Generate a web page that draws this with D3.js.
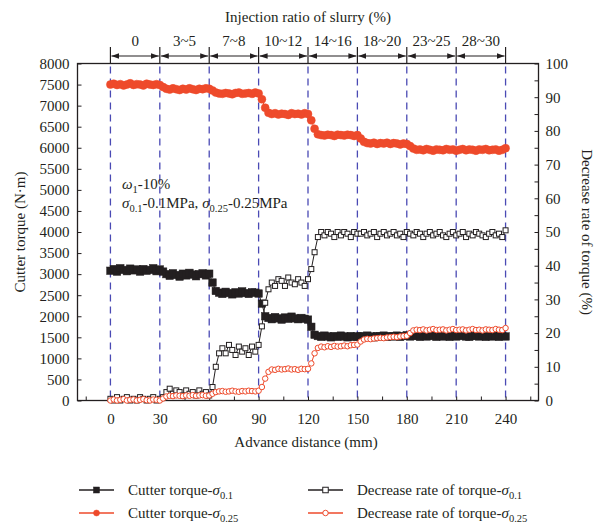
<!DOCTYPE html>
<html><head><meta charset="utf-8">
<script src="https://cdn.jsdelivr.net/npm/d3@7"></script>
<style>body{margin:0;background:#fff}svg{display:block}svg text{font-family:"Liberation Serif","DejaVu Serif",serif}</style>
</head><body><svg id="c" width="597" height="527"></svg>
<script>
// ---------- DATA ----------
const advance = [0,2,4,6,8,10,12,14,16,18,20,22,24,26,28,30,32,34,36,38,40,42,44,46,48,50,52,54,56,58,60,62,64,66,68,70,72,74,76,78,80,82,84,86,88,90,92,94,96,98,100,102,104,106,108,110,112,114,116,118,120,122,124,126,128,130,132,134,136,138,140,142,144,146,148,150,152,154,156,158,160,162,164,166,168,170,172,174,176,178,180,182,184,186,188,190,192,194,196,198,200,202,204,206,208,210,212,214,216,218,220,222,224,226,228,230,232,234,236,238,240];

const torque01 = [3080,3120,3060,3140,3100,3070,3130,3090,3110,3060,3120,3080,3100,3140,3070,3110,
  3060,3000,2960,3020,2980,2940,3010,2970,3030,2990,2950,3000,3020,2970,3010,
  2800,2600,2560,2530,2580,2550,2520,2570,2540,2590,2550,2530,2570,2560,2540,
  2300,2000,1960,1930,1980,1950,1920,1970,1940,1990,1950,1930,1960,1940,1920,
  1750,1560,1530,1510,1540,1520,1500,1530,1510,1540,1520,1500,1530,1510,1520,
  1530,1510,1540,1520,1500,1530,1520,1540,1510,1530,1520,1540,1510,1530,1550,1520,1540,1530,1510,1540,
  1520,1530,1550,1510,1540,1520,1530,1510,1540,1520,1530,1550,1520,1510,1540,1530,1520,1540,1510,1530,
  1520,1540,1510,1530,1520];

const torque025 = [7500,7520,7490,7510,7480,7500,7530,7490,7510,7500,7480,7520,7500,7490,7510,7490,
  7440,7400,7380,7410,7390,7370,7400,7380,7410,7390,7370,7400,7390,7410,7400,
  7360,7310,7290,7280,7300,7290,7270,7300,7310,7280,7290,7300,7280,7310,7290,
  7150,6950,6830,6800,6820,6790,6810,6800,6780,6820,6800,6810,6790,6820,6800,
  6650,6450,6320,6300,6290,6310,6300,6280,6310,6300,6290,6310,6300,6280,6300,
  6220,6140,6110,6100,6120,6090,6110,6100,6120,6090,6110,6100,6080,6100,6090,
  6040,5980,5950,5960,5940,5970,5950,5930,5960,5950,5940,5970,5950,5960,5930,
  5950,5970,5940,5960,5950,5930,5960,5950,5970,5940,5950,5960,5930,5950,5990];

const rate01 = [0.5,0,1,0,0.5,1,0,0.5,0,1,0.5,0,0.5,1,0,0.5,
  1,2.5,3.5,2,3,2.5,1.5,3,2,2.5,1.5,3,2,2.5,1.5,
  4,10,14,15.5,14,16.5,15,13.5,16,14.5,15.5,13.5,16,14.5,16.5,
  22,29,33,35,34,36,35.5,34,36.5,35,34.5,36,35,34,36,
  39,44,48.5,50,49,50,49.5,48.5,50,49,50,49.5,48.5,50,49.5,
  49.5,50,49,49.5,50,48.5,49.5,50,49,49.5,50,49,49.5,48.5,50,49.5,49,50,49.5,48.5,
  49.5,50,49,49.5,50,49,48.5,49.5,50,49,49.5,50,48.5,49.5,49,50,49.5,49,48.5,49.5,
  50,49,49.5,48.5,50.5];

const rate025 = [0,0.3,0,0.2,0.4,0,0.2,0.3,0,0.2,0.4,0.1,0,0.3,0.2,0,
  0.6,1.2,1.4,1.3,1.5,1.4,1.3,1.5,1.4,1.6,1.4,1.5,1.6,1.4,1.5,
  2.0,2.5,2.7,2.8,2.6,2.7,2.9,2.7,2.6,2.8,2.7,2.9,2.8,2.7,2.9,
  4,6.5,8.5,9.2,9.1,9.4,9.2,9.3,9.5,9.2,9.3,9.1,9.4,9.3,9.4,
  11,14,15.6,16,15.8,16.1,15.9,16.2,16,16.1,16.3,16.1,16.4,16.5,16.6,
  17.5,18.1,18.3,18.2,18.4,18.5,18.6,18.5,18.7,18.8,18.9,18.8,19.0,19.1,19.2,
  20.0,20.8,21.0,20.9,21.1,20.8,21.0,21.2,20.9,21.0,21.1,20.8,21.0,21.2,20.9,
  21.0,21.1,20.8,21.0,21.2,20.9,21.0,20.8,21.1,21.0,20.9,21.2,21.0,20.9,21.5];

const xTicks = [0,30,60,90,120,150,180,210,240];
const xMinorTicks = [-15,15,45,75,105,135,165,195,225,255];
const leftTicks = [0,500,1000,1500,2000,2500,3000,3500,4000,4500,5000,5500,6000,6500,7000,7500,8000];
const rightTicks = [0,10,20,30,40,50,60,70,80,90,100];
const rightMinorTicks = [5,15,25,35,45,55,65,75,85,95];
const ratioBounds = [0,30,60,90,120,150,180,210,240];
const ratioLabels = ["0","3~5","7~8","10~12","14~16","18~20","23~25","28~30"];

// ---------- STYLE ----------
const BLACK = "#231f20", RED = "#ee4a2b", DASH = "#4a4ab4";
const L = 77.5, R = 538.5, T = 63.5, B = 400.5;

const svg = d3.select("#c");
svg.append("rect").attr("width",597).attr("height",527).attr("fill","#fff");

const x = d3.scaleLinear().domain([-20,260]).range([L,R]);
const yL = d3.scaleLinear().domain([0,8000]).range([B,T]);
const yR = d3.scaleLinear().domain([0,100]).range([B,T]);

// dashed vertical lines
svg.append("g").selectAll("line").data(ratioBounds).join("line")
  .attr("x1",d=>x(d)).attr("x2",d=>x(d)).attr("y1",T+3).attr("y2",B)
  .attr("stroke",DASH).attr("stroke-width",1.3).attr("stroke-dasharray","7,5");

// axes
function styleAxis(g){
  g.select(".domain").remove();
  g.attr("font-family",null).attr("font-size",null);
  g.selectAll("line").attr("stroke",BLACK).attr("stroke-width",1);
  g.selectAll("text").style("font-size","15px").attr("fill",BLACK);
}
svg.append("g").attr("transform",`translate(0,${B})`)
  .call(d3.axisBottom(x).tickValues(xTicks).tickSize(-4).tickPadding(13).tickFormat(d3.format("d")))
  .call(styleAxis);
svg.append("g").attr("transform",`translate(0,${B})`)
  .call(d3.axisBottom(x).tickValues(xMinorTicks).tickSize(-4).tickFormat(""))
  .call(styleAxis);
svg.append("g").attr("transform",`translate(${L},0)`)
  .call(d3.axisLeft(yL).tickValues(leftTicks).tickSize(-4).tickPadding(8).tickFormat(d3.format("d")))
  .call(styleAxis);
svg.append("g").attr("transform",`translate(${R},0)`)
  .call(d3.axisRight(yR).tickValues(rightTicks).tickSize(-4).tickPadding(7).tickFormat(d3.format("d")))
  .call(styleAxis);
svg.append("g").attr("transform",`translate(${R},0)`)
  .call(d3.axisRight(yR).tickValues(rightMinorTicks).tickSize(-4).tickFormat(""))
  .call(styleAxis);

// frame
svg.append("rect").attr("x",L).attr("y",T).attr("width",R-L).attr("height",B-T)
  .attr("fill","none").attr("stroke",BLACK).attr("stroke-width",1.3);

// top brackets
const topG = svg.append("g");
const defs = svg.append("defs");
defs.append("marker").attr("id","arr").attr("viewBox","0 0 10 10").attr("refX",10).attr("refY",5)
  .attr("markerWidth",8).attr("markerHeight",8).attr("markerUnits","userSpaceOnUse").attr("orient","auto-start-reverse")
  .append("path").attr("d","M0,1.5 L10,5 L0,8.5 Z").attr("fill",BLACK);
topG.selectAll("line.v").data(ratioBounds).join("line").attr("class","v")
  .attr("x1",d=>x(d)).attr("x2",d=>x(d)).attr("y1",47).attr("y2",T)
  .attr("stroke",BLACK).attr("stroke-width",1.2);
topG.selectAll("line.h").data(ratioLabels).join("line").attr("class","h")
  .attr("x1",(d,i)=>x(ratioBounds[i])+1).attr("x2",(d,i)=>x(ratioBounds[i+1])-1)
  .attr("y1",56).attr("y2",56).attr("stroke",BLACK).attr("stroke-width",1.2)
  .attr("marker-start","url(#arr)").attr("marker-end","url(#arr)");
topG.selectAll("text").data(ratioLabels).join("text")
  .attr("x",(d,i)=>x((ratioBounds[i]+ratioBounds[i+1])/2)).attr("y",46)
  .attr("text-anchor","middle").style("font-size","15px").attr("fill",BLACK)
  .text(d=>d);

// titles
svg.append("text").attr("x",308).attr("y",22).attr("text-anchor","middle")
  .style("font-size","15px").attr("fill",BLACK).text("Injection ratio of slurry (%)");
svg.append("text").attr("x",306).attr("y",447).attr("text-anchor","middle")
  .style("font-size","15px").attr("fill",BLACK).text("Advance distance (mm)");
svg.append("text").attr("transform",`translate(25,${(T+B)/2}) rotate(-90)`).attr("text-anchor","middle")
  .style("font-size","15px").attr("fill",BLACK).text("Cutter torque (N·m)");
svg.append("text").attr("transform",`translate(582,${(T+B)/2}) rotate(90)`).attr("text-anchor","middle")
  .style("font-size","15px").attr("fill",BLACK).text("Decrease rate of torque (%)");

// rich text helper
function rich(g, px, py, parts, size){
  const t = g.append("text").attr("x",px).attr("y",py)
    .style("font-size",size+"px").attr("fill",BLACK);
  let shift = 0;
  parts.forEach(p=>{
    const ts = t.append("tspan").text(p.t);
    let target = p.sub ? 4 : 0;
    if (target !== shift){ ts.attr("dy", target-shift); shift = target; }
    if (p.sub) ts.style("font-size", (size*0.7)+"px");
    if (p.i) ts.style("font-style","italic");
  });
  return t;
}

// annotation
rich(svg,122,189,[{t:"ω",i:true},{t:"1",sub:true},{t:"-10%"}],15);
rich(svg,122,208,[{t:"σ",i:true},{t:"0.1",sub:true},{t:"-0.1MPa, "},{t:"σ",i:true},{t:"0.25",sub:true},{t:"-0.25MPa"}],15);

// series
const series = [
  {vals:torque01, y:yL, color:BLACK, mark:"sq", fill:BLACK, size:7.5},
  {vals:torque025, y:yL, color:RED, mark:"ci", fill:RED, size:8},
  {vals:rate01, y:yR, color:BLACK, mark:"sq", fill:"#fff", size:5},
  {vals:rate025, y:yR, color:RED, mark:"ci", fill:"#fff", size:5.5}
];
function drawMarker(g, mark, cx, cy, color, fill, size){
  if (mark==="sq"){
    g.append("rect").attr("x",cx-size/2).attr("y",cy-size/2).attr("width",size).attr("height",size)
      .attr("fill",fill).attr("stroke",color).attr("stroke-width",fill==="#fff"?1:0.5);
  } else {
    g.append("circle").attr("cx",cx).attr("cy",cy).attr("r",size/2)
      .attr("fill",fill).attr("stroke",color).attr("stroke-width",fill==="#fff"?1:0.5);
  }
}
series.forEach(s=>{
  const g = svg.append("g");
  const pts = advance.map((a,i)=>[a,s.vals[i]]);
  g.append("path").attr("d", d3.line().x(d=>x(d[0])).y(d=>s.y(d[1]))(pts))
    .attr("fill","none").attr("stroke",s.color).attr("stroke-width",1);
  pts.forEach(d=>drawMarker(g, s.mark, x(d[0]), s.y(d[1]), s.color, s.fill, s.size));
});

// legend
const legend = [
  {lx:79, ly:490, color:BLACK, mark:"sq", fill:BLACK, parts:[{t:"Cutter torque-"},{t:"σ",i:true},{t:"0.1",sub:true}]},
  {lx:308, ly:490, color:BLACK, mark:"sq", fill:"#fff", parts:[{t:"Decrease rate of torque-"},{t:"σ",i:true},{t:"0.1",sub:true}]},
  {lx:79, ly:513, color:RED, mark:"ci", fill:RED, parts:[{t:"Cutter torque-"},{t:"σ",i:true},{t:"0.25",sub:true}]},
  {lx:308, ly:513, color:RED, mark:"ci", fill:"#fff", parts:[{t:"Decrease rate of torque-"},{t:"σ",i:true},{t:"0.25",sub:true}]}
];
legend.forEach(l=>{
  const g = svg.append("g");
  g.append("line").attr("x1",l.lx).attr("x2",l.lx+35).attr("y1",l.ly).attr("y2",l.ly)
    .attr("stroke",l.color).attr("stroke-width",1.3);
  drawMarker(g, l.mark, l.lx+17.5, l.ly, l.color, l.fill, l.fill==="#fff"?5.5:6);
  rich(g, l.lx+49, l.ly+5, l.parts, 15);
});
</script></body></html>
